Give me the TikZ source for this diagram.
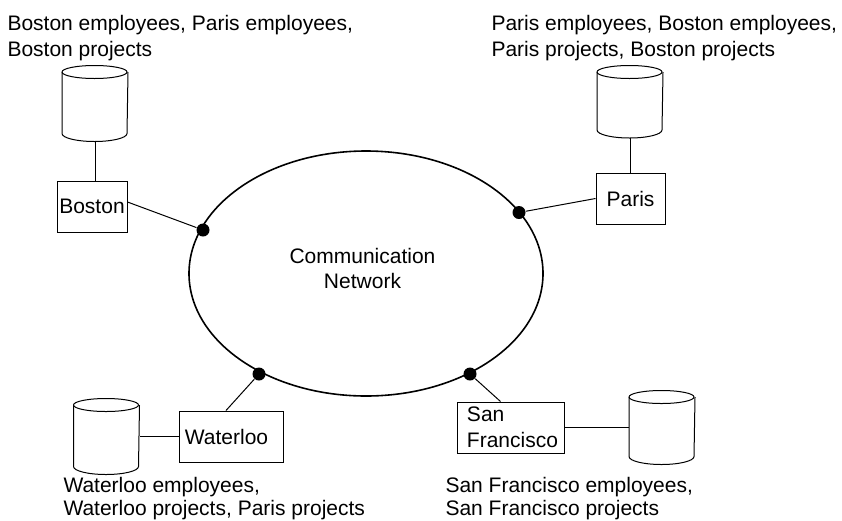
\documentclass[tikz,border=0pt]{standalone}
\usepackage{fontspec}
\setmainfont{Liberation Sans}
\usetikzlibrary{shapes.geometric}
\tikzset{
site/.style={draw,line width=1pt,inner sep=1pt,align=left,minimum height=51pt,font=\fontsize{21}{26}\selectfont},
disk/.style={inner sep=0pt,minimum width=65pt},
lbl/.style={anchor=north west,inner sep=0pt,align=left,font=\fontsize{21}{26}\selectfont},
lowlbl/.style={lbl,font=\fontsize{21}{23}\selectfont},
joint/.style={circle,fill,inner sep=0pt,minimum size=13pt},
}
\begin{document}
\begin{tikzpicture}[x=1pt,y=-1pt,line width=1pt]
\useasboundingbox (0,0) rectangle (842,520);
\node[draw,ellipse,line width=1.6pt,minimum width=354pt,minimum height=245pt,inner sep=0pt] (net) at (366,273.5) {};
\node[inner sep=0pt,align=center,font=\fontsize{21}{25}\selectfont] (nettxt) at (362.5,268) {Communication\\Network};
\node[joint] (jb) at (203,230) {};
\node[joint] (jp) at (519,212.5) {};
\node[joint] (jw) at (259,374) {};
\node[joint] (js) at (470,374) {};
\node[site,minimum width=70pt] (boston) at (92,206.5) {Boston};
\node[site,minimum width=69pt] (paris) at (630.5,198.5) {Paris};
\node[site,minimum width=104pt] (waterloo) at (231,436.5) {Waterloo\hspace*{9pt}};
\node[site,minimum width=107pt] (sf) at (510.5,427.5) {\hspace*{4pt}San\\\hspace*{4pt}Francisco};
\node[disk,minimum height=75pt] (db) at (95,103.5) {};
\node[disk,minimum height=71.5pt] (dp) at (630,101.75) {};
\node[disk,minimum height=75pt] (dw) at (106.5,436.5) {};
\node[disk,minimum height=73pt] (ds) at (662,427.5) {};
\foreach \d in {db,dp,dw,ds}{
\draw ([yshift=-6.5pt]\d.north west) arc[start angle=180,end angle=-180,x radius=32.5pt,y radius=6.5pt];
\draw ([yshift=-6.5pt]\d.north west)--([yshift=8pt]\d.south west) arc[start angle=180,end angle=360,x radius=32.5pt,y radius=8pt]--([yshift=-6.5pt]\d.north east);
}
\draw ([yshift=4.5pt]boston.east)--(jb);
\draw (paris.west)--(jp);
\draw ([xshift=-5pt]waterloo.north)--(jw);
\draw ([xshift=-10pt]sf.north)--(js);
\draw (db.south)--(db.south|-boston.north);
\draw (dp.south)--(dp.south|-paris.north);
\draw (dw.east)--(waterloo.west);
\draw (sf.east)--(ds.west);
\node[lbl] (lb) at (7,15) {Boston employees, Paris employees,\\Boston projects};
\node[lbl] (lp) at (491,15) {Paris employees, Boston employees,\\Paris projects, Boston projects};
\node[lowlbl] (lw) at (63,477) {Waterloo employees,\\Waterloo projects, Paris projects};
\node[lowlbl] (ls) at (445,477) {San Francisco employees,\\San Francisco projects};
\end{tikzpicture}
\end{document}
